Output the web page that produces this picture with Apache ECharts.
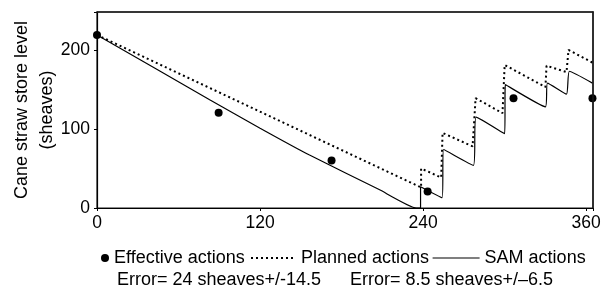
<!DOCTYPE html>
<html>
<head>
<meta charset="utf-8">
<script src="https://cdn.jsdelivr.net/npm/echarts@6/dist/echarts.min.js"></script>
<style>
  html, body { margin: 0; padding: 0; background: #fff; }
  #chart { width: 607px; height: 293px; }
</style>
</head>
<body>
<div id="chart"></div>
<script>
// day index vs straw store level (sheaves)
const effectiveActions = [
  [0, 219], [89.5, 120.5], [172.6, 60], [243.3, 21], [306.5, 139], [364.6, 139]
]
const plannedActions = [
  [0, 219], [238.5, 26], [238.5, 50], [253.3, 38.5], [254.3, 95], [276.4, 78],
  [278.6, 139], [298.4, 120], [300, 181], [330, 153], [330.8, 180], [345.5, 172],
  [347, 200], [364.6, 184]
]
const samActions = [
  [0, 219], [82.9, 137], [120, 101], [156.4, 67], [208, 23], [235, 0], [238.1, 0], [238.1, 27],
  [254, 13], [255, 74], [277, 54], [279, 115], [300, 94], [300.5, 156], [330, 128],
  [331.5, 158], [345.5, 144], [347.6, 173], [364.6, 158]
]
const xTicks = [0, 120, 240, 360]
const yTicks = [0, 100, 200]
const errorNotes = ['Error= 24 sheaves+/-14.5', 'Error= 8.5 sheaves+/\u20136.5']

const font = 'Liberation Sans, Arial, sans-serif'
const chart = echarts.init(document.getElementById('chart'))

const legendBase = {
  orient: 'horizontal',
  top: 249,
  padding: 0,
  itemGap: 0,
  textStyle: { color: '#000', fontSize: 18, fontFamily: font },
  selectedMode: false
}

// plain frame lines for the top and right sides
const frameAxis = {
  type: 'value',
  show: true,
  z: 10,
  axisLine: { show: true, onZero: false, lineStyle: { color: '#1a1a1a', width: 1.5, opacity: 1 } },
  axisTick: { show: false },
  axisLabel: { show: false },
  splitLine: { show: false }
}

const option = {
  animation: false,
  backgroundColor: '#fff',
  grid: {
    left: 97,
    right: 14,
    top: 12,
    bottom: 85,
    outerBoundsMode: 'none',
    containLabel: false,
    show: true,
    backgroundColor: 'transparent',
    borderColor: '#1a1a1a',
    borderWidth: 1.2
  },
  legend: [
    Object.assign({}, legendBase, {
      left: 101,
      data: [{ name: 'Effective actions', icon: 'circle' }],
      itemWidth: 8,
      itemHeight: 8
    }),
    Object.assign({}, legendBase, {
      left: 250,
      data: ['Planned actions'],
      itemWidth: 45,
      itemHeight: 14,
      itemStyle: { opacity: 0 },
      lineStyle: { color: '#000', width: 2, type: [2, 3], opacity: 1 }
    }),
    Object.assign({}, legendBase, {
      left: 432,
      data: ['SAM actions'],
      itemWidth: 47,
      itemHeight: 14,
      itemStyle: { opacity: 0 },
      lineStyle: { color: '#000', width: 1.2, opacity: 1 }
    })
  ],
  xAxis: [
    {
      type: 'value',
      min: 0,
      max: 365,
      interval: 120,
      splitLine: { show: false },
      axisLine: { onZero: false, lineStyle: { color: '#000', width: 1.2 } },
      axisTick: { length: 3, lineStyle: { color: '#000' } },
      axisLabel: {
        color: '#000',
        fontSize: 17.5,
        fontFamily: font,
        margin: 6,
        formatter: v => (xTicks.includes(v) ? String(v) : '')
      }
    },
    Object.assign({}, frameAxis, { position: 'top', min: 0, max: 365 })
  ],
  yAxis: [
    {
      type: 'value',
      min: 0,
      max: 248,
      interval: 100,
      name: 'Cane straw store level\n(sheaves)',
      nameLocation: 'middle',
      nameGap: 37,
      nameMoveOverlap: false,
      nameTextStyle: { color: '#000', fontSize: 18, fontFamily: font, lineHeight: 25 },
      splitLine: { show: false },
      axisLine: { onZero: false, lineStyle: { color: '#000', width: 1.2 } },
      axisTick: { length: 3, lineStyle: { color: '#000' } },
      axisLabel: {
        color: '#000',
        fontSize: 17.5,
        fontFamily: font,
        margin: 7,
        formatter: v => (yTicks.includes(v) ? String(v) : '')
      }
    },
    Object.assign({}, frameAxis, { position: 'right', min: 0, max: 248 })
  ],
  graphic: [
    {
      type: 'text',
      left: 117,
      top: 271,
      style: { text: errorNotes[0], fill: '#000', fontSize: 18, fontFamily: font }
    },
    {
      type: 'text',
      left: 350,
      top: 271,
      style: { text: errorNotes[1], fill: '#000', fontSize: 18, fontFamily: font }
    }
  ],
  series: [
    {
      name: 'Effective actions',
      type: 'scatter',
      data: effectiveActions,
      symbol: 'circle',
      symbolSize: 8,
      itemStyle: { color: '#000', opacity: 1 },
      z: 5
    },
    {
      name: 'Planned actions',
      type: 'line',
      data: plannedActions,
      showSymbol: false,
      symbol: 'none',
      lineStyle: { color: '#000', width: 2, type: [2, 3] },
      itemStyle: { color: '#000' }
    },
    {
      name: 'SAM actions',
      type: 'line',
      data: samActions,
      showSymbol: false,
      symbol: 'none',
      smooth: 0.15,
      lineStyle: { color: '#000', width: 1.2 },
      itemStyle: { color: '#000' }
    }
  ]
}

chart.setOption(option)
</script>
</body>
</html>
